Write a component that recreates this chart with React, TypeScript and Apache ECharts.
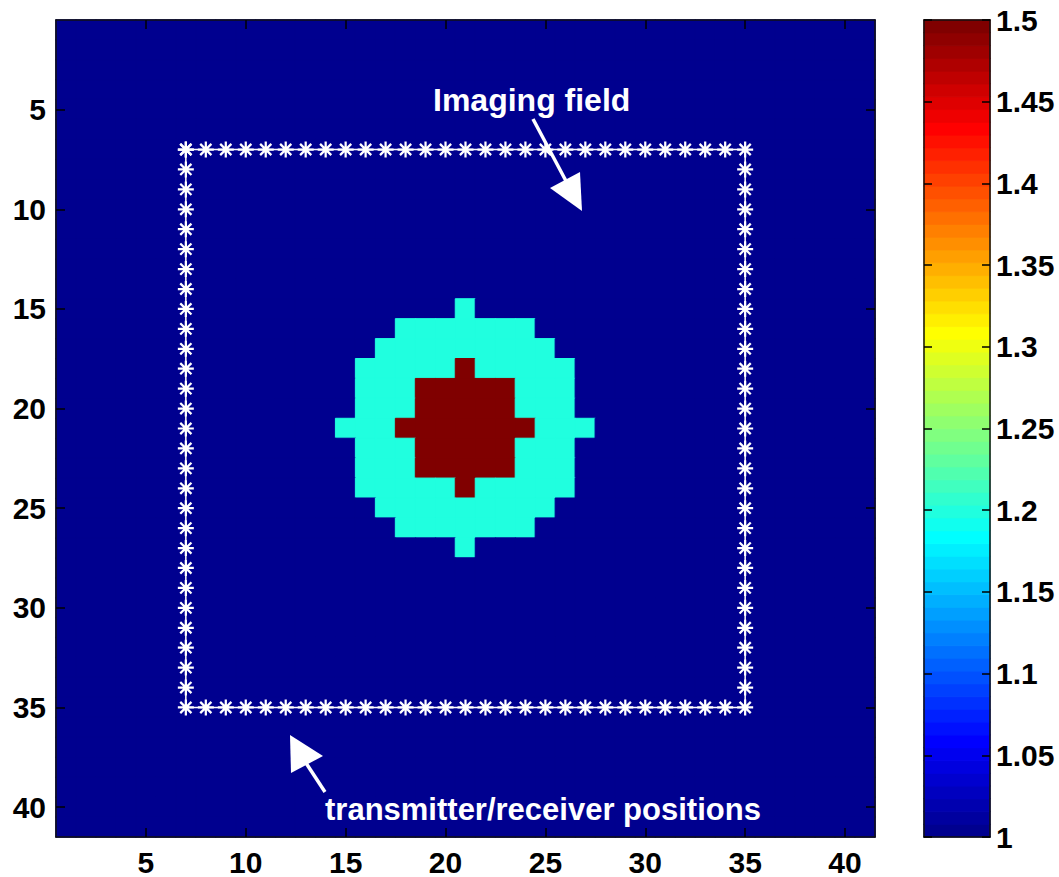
import React, { useEffect, useRef } from "react";
import * as echarts from "echarts";

// ---- data ----
const cellCategories = ["1","2","3","4","5","6","7","8","9","10","11","12","13","14","15","16","17","18","19","20","21","22","23","24","25","26","27","28","29","30","31","32","33","34","35","36","37","38","39","40","41"];
const axisTickLabels = ["5", "10", "15", "20", "25", "30", "35", "40"];
const backgroundValue = 1;
const ringValue = 1.2;
const coreValue = 1.5;
// [row, first column, last column]
const ringRows = [
  [15, 21, 21], [16, 18, 24], [17, 17, 25], [18, 16, 26], [19, 16, 26], [20, 16, 26],
  [21, 15, 27], [22, 16, 26], [23, 16, 26], [24, 16, 26], [25, 17, 25], [26, 18, 24], [27, 21, 21],
];
const coreRows = [
  [18, 21, 21], [19, 19, 23], [20, 19, 23], [21, 18, 24], [22, 19, 23], [23, 19, 23], [24, 21, 21],
];
const sensorPositions = [7, 8, 9, 10, 11, 12, 13, 14, 15, 16, 17, 18, 19, 20, 21, 22, 23, 24, 25, 26, 27, 28, 29, 30, 31, 32, 33, 34, 35];
const colorMin = 1;
const colorMax = 1.5;
const colorTickStep = 0.05;

// MATLAB jet(64) colormap
function jet(m: number): string[] {
  const n = Math.ceil(m / 4);
  const u: number[] = [];
  for (let i = 1; i <= n; i++) u.push(i / n);
  for (let i = 1; i < n; i++) u.push(1);
  for (let i = n; i >= 1; i--) u.push(i / n);
  const off = Math.ceil(n / 2) - (m % 4 === 1 ? 1 : 0);
  const J = Array.from({ length: m }, () => [0, 0, 0]);
  const g = u.map((_, i) => off + i + 1);
  const r = g.map((v) => v + n).filter((v) => v <= m);
  const b = g.map((v) => v - n).filter((v) => v >= 1);
  const gg = g.filter((v) => v <= m);
  r.forEach((row, i) => (J[row - 1][0] = u[i]));
  gg.forEach((row, i) => (J[row - 1][1] = u[i]));
  b.forEach((row, i) => (J[row - 1][2] = u[u.length - b.length + i]));
  return J.map(([a, c, d]) => `rgb(${Math.round(a * 255)},${Math.round(c * 255)},${Math.round(d * 255)})`);
}

const FONT = "'Liberation Sans', Arial, Helvetica, sans-serif";

export default function App() {
  const ref = useRef<HTMLDivElement>(null);
  useEffect(() => {
    if (!ref.current) return;
    const chart = echarts.init(ref.current, undefined, { renderer: "svg" });

    const colors = jet(64);
    const step = (colorMax - colorMin) / colors.length;
    const colorOf = (v: number) => colors[Math.min(colors.length - 1, Math.floor((v - colorMin) / step + 1e-9))];
    const pieces = colors.map((color, i) =>
      i === colors.length - 1
        ? { gte: colorMin + i * step, lte: colorMax, color }
        : { gte: colorMin + i * step, lt: colorMin + (i + 1) * step, color }
    );

    const n = cellCategories.length;
    const grid: number[][] = Array.from({ length: n }, () => Array(n).fill(backgroundValue));
    ringRows.forEach(([r, c0, c1]) => { for (let c = c0; c <= c1; c++) grid[r - 1][c - 1] = ringValue; });
    coreRows.forEach(([r, c0, c1]) => { for (let c = c0; c <= c1; c++) grid[r - 1][c - 1] = coreValue; });
    const heatData: any[] = [];
    for (let r = 0; r < n; r++)
      for (let c = 0; c < n; c++)
        heatData.push({ value: [c, r, grid[r][c]], itemStyle: { borderColor: colorOf(grid[r][c]), borderWidth: 1 } });

    const first = sensorPositions[0];
    const last = sensorPositions[sensorPositions.length - 1];
    const sensors: number[][] = [];
    sensorPositions.forEach((p) => sensors.push([p, first]));
    sensorPositions.slice(1).forEach((p) => sensors.push([last, p]));
    sensorPositions.slice(0, -1).reverse().forEach((p) => sensors.push([p, last]));
    sensorPositions.slice(0, -1).reverse().forEach((p) => sensors.push([first, p]));

    const bandCats = colors.map((_, i) => String(i));
    const bandData = colors.map((_, i) => {
      const v = colorMin + (i + 0.5) * step;
      return { value: [0, i, v], itemStyle: { borderColor: colorOf(v), borderWidth: 0.6 } };
    });

    const tickInterval = (_i: number, v: string) => axisTickLabels.includes(v);
    const labelStyle = { color: "#000", fontFamily: FONT, fontWeight: "bold" as const, fontSize: 30 };
    const lineStyle = { color: "#111", width: 1.5 };
    const tickStyle = { color: "#000", width: 1.5 };

    const catAxis = (extra: any) => ({
      type: "category",
      data: cellCategories,
      gridIndex: 0,
      z: 10,
      boundaryGap: true,
      axisLine: { show: true, lineStyle },
      axisTick: { show: true, inside: true, length: 9, interval: tickInterval, alignWithLabel: true, lineStyle: tickStyle },
      splitLine: { show: false },
      ...extra,
    });

    const star =
      "path://M43 0H57V100H43Z M0 43H100V57H0Z M10 20L20 10L90 80L80 90Z M80 10L90 20L20 90L10 80Z M34 34H66V66H34Z";

    chart.setOption({
      animation: false,
      backgroundColor: "#fff",
      grid: [
        { left: 56, top: 20, width: 819, height: 817, show: true, borderWidth: 0, backgroundColor: colors[0] },
        { left: 924, top: 20, width: 66, height: 817 },
      ],
      xAxis: [
        catAxis({ position: "bottom", axisLabel: { ...labelStyle, interval: tickInterval, margin: 10 } }),
        catAxis({ position: "top", axisLabel: { show: false } }),
        { type: "value", gridIndex: 0, min: 0.5, max: 41.5, show: false },
        { type: "category", gridIndex: 1, z: 10, data: [""], position: "bottom", axisLine: { show: true, lineStyle }, axisTick: { show: false }, axisLabel: { show: false } },
        { type: "category", gridIndex: 1, z: 10, data: [""], position: "top", axisLine: { show: true, lineStyle }, axisTick: { show: false }, axisLabel: { show: false } },
      ],
      yAxis: [
        catAxis({ position: "left", inverse: true, axisLabel: { ...labelStyle, interval: tickInterval, margin: 10 } }),
        catAxis({ position: "right", inverse: true, axisLabel: { show: false } }),
        { type: "value", gridIndex: 0, min: 0.5, max: 41.5, inverse: true, show: false },
        { type: "category", gridIndex: 1, data: bandCats, show: false },
        {
          type: "value", gridIndex: 1, z: 10, position: "right", min: colorMin, max: colorMax, interval: colorTickStep,
          axisLine: { show: true, lineStyle },
          axisTick: { show: true, inside: true, length: 8, lineStyle: tickStyle },
          axisLabel: { ...labelStyle, margin: 6 },
          splitLine: { show: false },
        },
        {
          type: "value", gridIndex: 1, z: 10, position: "left", min: colorMin, max: colorMax, interval: colorTickStep,
          axisLine: { show: true, lineStyle },
          axisTick: { show: true, inside: true, length: 8, lineStyle: tickStyle },
          axisLabel: { show: false },
          splitLine: { show: false },
        },
      ],
      visualMap: {
        type: "piecewise",
        show: false,
        seriesIndex: [0, 2],
        dimension: 2,
        pieces,
      },
      series: [
        {
          type: "heatmap",
          xAxisIndex: 0,
          yAxisIndex: 0,
          data: heatData,
          emphasis: { disabled: true },
          progressive: 0,
          z: 1,
        },
        {
          type: "line",
          xAxisIndex: 2,
          yAxisIndex: 2,
          data: sensors,
          symbol: star,
          symbolSize: 16,
          showSymbol: true,
          itemStyle: { color: "#fff" },
          lineStyle: { color: "#fff", width: 1.5 },
          emphasis: { disabled: true },
          z: 3,
        },
        {
          type: "heatmap",
          xAxisIndex: 3,
          yAxisIndex: 3,
          data: bandData,
          emphasis: { disabled: true },
          z: 1,
        },
      ],
      graphic: [
        { type: "text", left: 433, top: 84, z: 10, style: { text: "Imaging field", fill: "#fff", font: `bold 32px ${FONT}` } },
        { type: "text", left: 325, top: 794, z: 10, style: { text: "transmitter/receiver positions", fill: "#fff", font: `bold 31px ${FONT}` } },
        { type: "line", z: 10, shape: { x1: 533, y1: 119, x2: 566, y2: 181 }, style: { stroke: "#fff", lineWidth: 3.5 } },
        { type: "polygon", z: 10, shape: { points: [[582, 211], [550, 188], [580, 172]] }, style: { fill: "#fff" } },
        { type: "line", z: 10, shape: { x1: 325, y1: 792, x2: 306, y2: 763 }, style: { stroke: "#fff", lineWidth: 3.5 } },
        { type: "polygon", z: 10, shape: { points: [[290, 735], [323, 756], [291, 773]] }, style: { fill: "#fff" } },
      ],
    });
    return () => chart.dispose();
  }, []);
  return (
    <div
      ref={ref}
      style={{ position: "fixed", left: 0, top: 0, width: 1059, height: 877, background: "#fff" }}
    />
  );
}
